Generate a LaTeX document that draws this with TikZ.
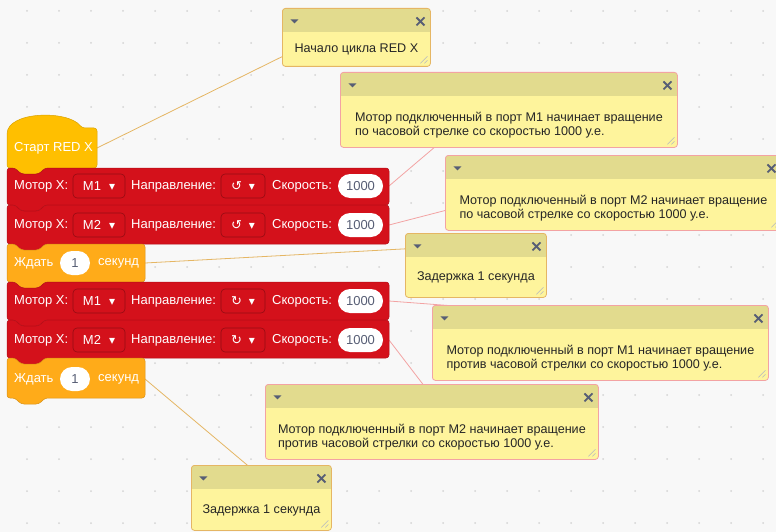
\documentclass[tikz,border=0pt]{standalone}
\usepackage{fontspec}
\setmainfont{Liberation Sans}
\newfontfamily\symfont{DejaVu Sans}
\usepackage{xcolor}
\usetikzlibrary{backgrounds}

\definecolor{hatcol}{HTML}{FFBF00}
\definecolor{waitcol}{HTML}{FFAB19}
\definecolor{motorcol}{HTML}{D4111B}
\definecolor{cbody}{HTML}{FEF49C}
\definecolor{chead}{HTML}{E2DB8E}
\definecolor{ctan}{HTML}{E5B664}
\definecolor{cpink}{HTML}{F3A3A3}
\definecolor{cicon}{HTML}{575E75}
\definecolor{ctext}{HTML}{262626}
\definecolor{bgcol}{HTML}{F8F8F8}
\definecolor{dotcol}{HTML}{D4D4D4}

\begin{document}
\begin{tikzpicture}[x=1pt,y=-1pt,font=\fontsize{13}{15}\selectfont]
\tikzset{blk/.style={fill=#1, draw=#1!85!black, line width=.5pt, rounded corners=3pt}}
\tikzset{lbl/.style={text=white, anchor=west, inner sep=0pt}}
\tikzset{dd/.style={draw=motorcol!70!black, line width=.6pt, rounded corners=4pt, minimum height=24pt, inner sep=0pt, text=white}}
\tikzset{pill/.style={fill=white, rounded corners=12pt, minimum height=24pt, inner sep=0pt, text=cicon}}
\tikzset{link/.style={draw=#1, line width=.8pt}}
\tikzset{cmt/.style={draw=#1, fill=cbody, line width=.8pt, rounded corners=3pt,
    anchor=north west, inner sep=0pt, align=left, text=ctext,
    font=\fontsize{12.6}{14}\selectfont,
    execute at begin node={\rule{0pt}{33pt}},
    path picture={
      \fill[chead, sharp corners] (path picture bounding box.north west) rectangle ([yshift=-24pt]path picture bounding box.north east);
      \fill[cicon, sharp corners] ([xshift=8pt,yshift=-11pt]path picture bounding box.north west) -- ++(8pt,0pt) -- ++(-4pt,-4pt) -- cycle;
      \draw[cicon, line width=1.8pt] ([xshift=-14pt,yshift=-9pt]path picture bounding box.north east) -- ++(8pt,-8pt)
        ([xshift=-6pt,yshift=-9pt]path picture bounding box.north east) -- ++(-8pt,-8pt);
      \draw[cicon!45, line width=.5pt] ([xshift=-3pt,yshift=10pt]path picture bounding box.south east) -- ++(-7pt,-7pt)
        ([xshift=-3pt,yshift=6pt]path picture bounding box.south east) -- ++(-3pt,-3pt);
    }}}
\tikzset{twolines/.style={execute at begin node={\rule{0pt}{53pt}}}}
\newcommand\arr{{\symfont\fontsize{12}{12}\selectfont ▾}}

\useasboundingbox (0,0) rectangle (776,532);

% workspace
\begin{pgfonlayer}{background}
\fill[bgcol] (0,0) rectangle (776,532);
\foreach \i in {0,...,23}
  \foreach \j in {0,...,16}
    \fill[dotcol] (27+32*\i,11+32*\j) circle (1pt);
\end{pgfonlayer}

% blocks
\draw[blk=hatcol] (7,168) -- (7,137) .. controls (7,111) and (68,110) .. (82,128) -- (97,128) -- (97,168)
  -- (45,168) -- (39,174) -- (21,174) -- (15,168) -- cycle;
\foreach \t/\b/\c/\r in {168/205/motorcol/389, 205/244/motorcol/389, 244/282/waitcol/145,
                         282/320/motorcol/389, 320/358/motorcol/389, 358/398/waitcol/145}
  \draw[blk=\c] (7,\t) -- (15,\t) -- (21,\t+6) -- (39,\t+6) -- (45,\t) -- (\r,\t) -- (\r,\b)
    -- (45,\b) -- (39,\b+6) -- (21,\b+6) -- (15,\b) -- (7,\b) -- cycle;

\node[lbl] (st-a) at (14,148) {Старт RED X};
\coordinate (st) at (97,148);

\foreach \y/\p/\d/\n in {186/M1/↺/m1, 225/M2/↺/m2, 301/M1/↻/m3, 340/M2/↻/m4} {
  \node[lbl] (\n-a) at (14,\y) {Мотор Х:};
  \node[dd, minimum width=52pt] (\n-b) at (99,\y) {\p\hspace{8pt}\arr};
  \node[lbl] (\n-c) at (131,\y) {Направление:};
  \node[dd, minimum width=44pt] (\n-d) at (243,\y) {{\symfont\d}\hspace{7pt}\arr};
  \node[lbl] (\n-e) at (272,\y) {Скорость:};
  \node[pill, minimum width=45pt] (\n-f) at (360.5,\y) {1000};
  \coordinate (\n) at (389,\y);
}

\foreach \y/\n in {263/w1, 379/w2} {
  \node[lbl] (\n-a) at (14,\y) {Ждать};
  \node[pill, minimum width=30pt] (\n-b) at (75,\y) {1};
  \node[lbl] (\n-c) at (98,\y) {секунд};
  \coordinate (\n) at (145,\y);
}

% comments
\node[cmt=ctan, minimum width=148pt, minimum height=58pt] (c1) at (282,8) {Начало цикла RED X};
\node[cmt=cpink, twolines, minimum width=337pt, minimum height=75pt] (c2) at (340,72)
  {Мотор подключенный в порт М1 начинает вращение\\по часовой стрелке со скоростью 1000 у.е.};
\node[cmt=cpink, twolines, minimum width=336pt, minimum height=75pt] (c3) at (445,155)
  {Мотор подключенный в порт М2 начинает вращение\\по часовой стрелке со скоростью 1000 у.е.};
\node[cmt=ctan, minimum width=141pt, minimum height=64pt] (c4) at (405,233) {Задержка 1 секунда};
\node[cmt=cpink, twolines, minimum width=336pt, minimum height=75pt] (c5) at (432,305)
  {Мотор подключенный в порт М1 начинает вращение\\против часовой стрелки со скоростью 1000 у.е.};
\node[cmt=cpink, twolines, minimum width=333pt, minimum height=75pt] (c6) at (265,384)
  {Мотор подключенный в порт М2 начинает вращение\\против часовой стрелки со скоростью 1000 у.е.};
\node[cmt=ctan, minimum width=140pt, minimum height=65pt] (c7) at (191,465) {Задержка 1 секунда};

\begin{pgfonlayer}{background}
\draw[link=ctan] (st) -- ([yshift=-12pt]c1.north);
\draw[link=cpink] (m1) -- ([yshift=-12pt]c2.north);
\draw[link=cpink] (m2) -- ([yshift=-12pt]c3.north);
\draw[link=ctan] (w1) -- ([yshift=-12pt]c4.north);
\draw[link=cpink] (m3) -- ([yshift=-12pt]c5.north);
\draw[link=cpink] (m4) -- ([yshift=-12pt]c6.north);
\draw[link=ctan] (w2) -- ([yshift=-12pt]c7.north);
\end{pgfonlayer}
\end{tikzpicture}
\end{document}
